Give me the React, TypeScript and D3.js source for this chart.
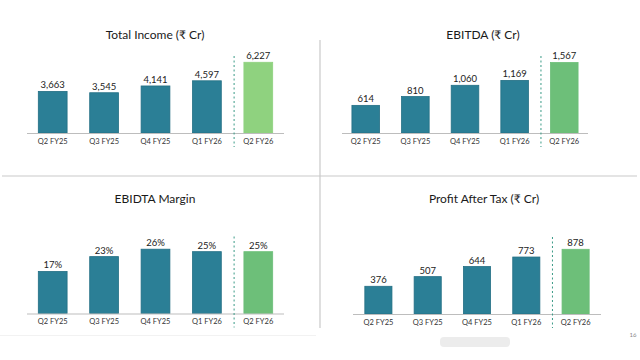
import { scaleBand, scaleLinear, format } from "d3";

const quarters = ["Q2 FY25", "Q3 FY25", "Q4 FY25", "Q1 FY26", "Q2 FY26"];
const totalIncome = [3663, 3545, 4141, 4597, 6227];
const ebitda = [614, 810, 1060, 1169, 1567];
const ebitdaMargin = [17, 23, 26, 25, 25];
const profitAfterTax = [376, 507, 644, 773, 878];
const titles = ["Total Income (₹ Cr)", "EBITDA (₹ Cr)", "EBIDTA Margin", "Profit After Tax (₹ Cr)"];

const TEAL = "#2b7f96";
const FONT = "Lato, 'Noto Sans', sans-serif";

// layout of each of the four panels, measured off the slide
const PANELS = [
  { values: totalIncome, title: titles[0], fmt: format(","), x0: 27, x1: 284, pi: 0.44, po: 0.22, base: 133, top: 53.5, yMax: 7000, titleX: 155, titleY: 39, green: "#8fd27f" },
  { values: ebitda, title: titles[1], fmt: format(","), x0: 342, x1: 588, pi: 0.444, po: 0.2, base: 133, top: 52, yMax: 1800, titleX: 483, titleY: 39, green: "#6dbf79" },
  { values: ebitdaMargin, title: titles[2], fmt: (v: number) => v + "%", x0: 27, x1: 284, pi: 0.44, po: 0.22, base: 313.5, top: 239.3, yMax: 30, titleX: 155, titleY: 203, green: "#6dbf79" },
  { values: profitAfterTax, title: titles[3], fmt: format(","), x0: 353, x1: 601, pi: 0.45, po: 0.24, base: 314, top: 240.3, yMax: 1000, titleX: 484, titleY: 203, green: "#6dbf79" },
];

const Panel = ({ p }: { p: (typeof PANELS)[number] }) => {
  const x = scaleBand<string>().domain(quarters).range([p.x0, p.x1]).paddingInner(p.pi).paddingOuter(p.po);
  const y = scaleLinear().domain([0, p.yMax]).range([p.base, p.top]);
  const bw = x.bandwidth();
  const last = quarters[quarters.length - 1];
  const sepX = (x(last) as number) - (x.step() - bw) / 2 + 1.5;
  return (
    <g>
      <text x={p.titleX} y={p.titleY} textAnchor="middle" fontSize={12} fill="#1a1a1a">{p.title}</text>
      {p.values.map((v, i) => {
        const q = quarters[i];
        const bx = x(q) as number;
        return (
          <g key={q}>
            <rect x={bx} y={y(v)} width={bw} height={p.base - y(v)} fill={q === last ? p.green : TEAL}
              stroke={q === last ? p.green : "#236f84"} strokeWidth={0.8} />
            <text x={bx + bw / 2} y={y(v) - 3} textAnchor="middle" fontSize={9.5} fill="#222">{p.fmt(v)}</text>
            <text x={bx + bw / 2} y={p.base + 10.5} textAnchor="middle" fontSize={7.5} fill="#333">{q}</text>
          </g>
        );
      })}
      <line x1={p.x0} x2={p.x1} y1={p.base + 0.5} y2={p.base + 0.5} stroke="#bdbdbd" strokeWidth={1} />
      <line x1={sepX} x2={sepX} y1={p.base - 77} y2={p.base + 14} stroke="#3a9a86" strokeWidth={1} strokeDasharray="2,2.5" />
    </g>
  );
};

export default function App() {
  return (
    <svg width={640} height={360} style={{ position: "absolute", left: 0, top: 0, background: "#fff" }} fontFamily={FONT}>
      <rect width={640} height={360} fill="#fff" />
      {/* quadrant dividers */}
      <line x1={2} x2={637} y1={176} y2={176} stroke="#c9c9c9" strokeWidth={1.2} />
      <line x1={320} x2={320} y1={40} y2={328} stroke="#c9c9c9" strokeWidth={1.2} />
      <line x1={0} x2={316} y1={335.5} y2={335.5} stroke="#f2f2f2" strokeWidth={1} />
      {PANELS.map((p) => <Panel key={p.title} p={p} />)}
      <rect x={440} y={337} width={70} height={10} rx={4} fill="#ececec" />
      <text x={633} y={337} textAnchor="middle" fontSize={6} fill="#888">16</text>
    </svg>
  );
}
